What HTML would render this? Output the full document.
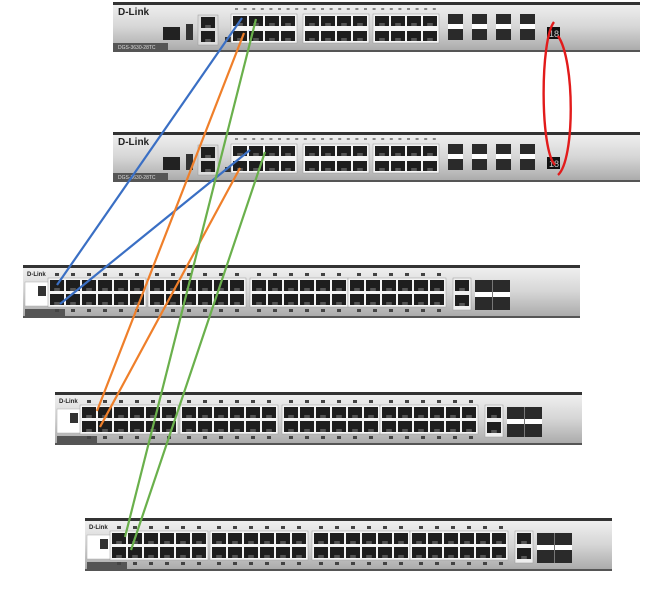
<!DOCTYPE html>
<html><head><style>
html,body{margin:0;padding:0;background:#fff;width:664px;height:592px;overflow:hidden}
svg{display:block}
</style></head><body>
<svg id="s" width="664" height="592" xmlns="http://www.w3.org/2000/svg" font-family="Liberation Sans, sans-serif">
<defs>
<linearGradient id="g" x1="0" y1="0" x2="0" y2="1">
<stop offset="0" stop-color="#f2f2f2"/><stop offset="0.5" stop-color="#d6d6d6"/><stop offset="1" stop-color="#a8a8a8"/>
</linearGradient>
</defs>
</svg>
<script>
const s=document.getElementById('s');let h='';
function r(x,y,w,hh,f,extra){h+=`<rect x="${x}" y="${y}" width="${w}" height="${hh}" fill="${f}" ${extra||''}/>`;}
function port(x,y,w,hh){r(x,y,w,hh,'#1e1e1e');r(x+w*0.3,y+hh-3,w*0.4,3,'#555');}
function group(x,y,cols,pw,ph,gap,rowgap){r(x-2,y-2,cols*(pw+gap)+2,ph*2+rowgap+4,'#f4f4f4','stroke="#999" stroke-width="0.5"');
 for(let c=0;c<cols;c++){port(x+c*(pw+gap),y,pw,ph);port(x+c*(pw+gap),y+ph+rowgap,pw,ph);}}
function big(y){
 r(113,y,527,50,'url(#g)');r(113,y,527,3,'#333');r(113,y+48,527,2,'#555');
 r(113,y+41,55,8,'#555');
 h+=`<text x="118" y="${y+13}" font-size="10" font-weight="bold" fill="#222">D-Link</text>`;
 h+=`<text x="118" y="${y+47}" font-size="5" fill="#ddd">DGS-3630-28TC</text>`;
 r(163,y+25,17,13,'#222');r(186,y+22,7,16,'#333');
 r(198,y+13,20,30,'#ddd','stroke="#999" stroke-width="0.5"');port(201,y+15,14,11);port(201,y+29,14,11);
 r(225,y+35,8,5,'#333');
 group(233,y+14,4,14,10,2,5);group(305,y+14,4,14,10,2,5);group(375,y+14,4,14,10,2,5);
 for(const sx of [448,472,496,520]){r(sx,y+12,15,11,'#2a2a2a');r(sx,y+22,15,5,'#fff');r(sx,y+27,15,11,'#2a2a2a');}
 r(547,y+25,13,12,'#111');h+=`<text x="549" y="${y+35}" font-size="9" fill="#ccc">18</text>`;
 for(let i=0;i<24;i++)r(235+i*8.6,y+6,3,2,'#888');
}
big(2);big(132);
function small(x,y,w){
 r(x,y,w,53,'url(#g)');r(x,y,w,3,'#333');r(x,y+51,w,2,'#555');
 h+=`<text x="${x+4}" y="${y+11}" font-size="6" font-weight="bold" fill="#222">D-Link</text>`;
 r(x+2,y+17,24,24,'#fff','stroke="#aaa" stroke-width="0.5"');r(x+15,y+21,8,10,'#333');
 r(x+2,y+44,40,8,'#555');
 const base=x+27;
 const gx=[0,100,202,300];
 for(const g of gx){group(base+g,y+15,6,14,11,2,3);}
 for(let c=0;c<24;c++){const px=base+Math.floor(c/6)*100+(c%6)*16+(c>=12?2:0);r(px+5,y+8,4,3,'#444');r(px+5,y+44,4,3,'#444');}
 r(base+403,y+13,18,32,'#eee','stroke="#999" stroke-width="0.5"');port(base+405,y+15,14,11);port(base+405,y+30,14,11);
 r(base+425,y+15,35,30,'#2a2a2a');r(base+425,y+27,35,5,'#fff');r(base+442,y+15,1,30,'#777');
}
small(23,265,557);small(55,392,527);small(85,518,527);
function ln(x1,y1,x2,y2,c){h+=`<path d="M${x1} ${y1} L ${x2} ${y2}" stroke="${c}" stroke-width="2.2" fill="none"/>`;}
const B='#3a6fc4',O='#ef7f2a',G='#6ab04c';
ln(242,18,57,285,B);ln(250,150,60,304,B);
ln(244,33,97,411,O);ln(240,168,100,427,O);
ln(256,19,125,537,G);ln(265,152,131,550,G);
h+=`<path d="M554 22 C540 40,540 150,555 165" stroke="#e21b1b" stroke-width="2.4" fill="none"/>`;
h+=`<path d="M558 36 C575 60,575 160,558 175" stroke="#e21b1b" stroke-width="2.4" fill="none"/>`;
s.insertAdjacentHTML('beforeend',h);
</script>
</body></html>
